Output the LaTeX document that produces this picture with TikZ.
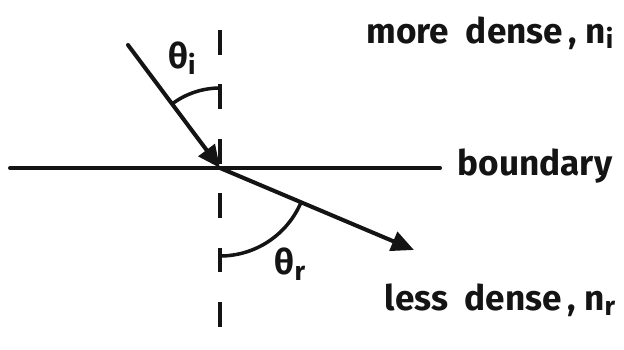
\documentclass[tikz,border=0pt]{standalone}
\usepackage{fontspec}
\setmainfont{Fira Sans}
\usepackage{xcolor}
\definecolor{inkblack}{RGB}{20,20,20}
\usetikzlibrary{arrows.meta, positioning}

\newcommand{\lowsub}[1]{\raisebox{-0.3ex}{\fontsize{15}{15}\selectfont #1}}

\begin{document}
\begin{tikzpicture}[x=0.02cm, y=0.02cm,
    ink/.style={inkblack, line width=2.3pt, line cap=round},
    ray/.style={ink, -{Triangle[length=4.5mm, width=4mm]}},
    normalline/.style={inkblack, line width=2pt, dash pattern=on 14pt off 17pt},
    lbl/.style={inkblack, font=\fontsize{20}{24}\selectfont\bfseries, inner sep=0pt}]

\useasboundingbox (0,0) rectangle (624,349);

% === Points ===
\coordinate (hit) at (220,181);
\coordinate (src) at (128,304);
\coordinate (dst) at (414,99);
\coordinate (ntop) at (220,319);
\coordinate (nbot) at (220,0);
\coordinate (bleft) at (10,181);
\coordinate (bright) at (440,181);

% === Boundary and normal ===
\draw[ink] (bleft) -- (bright);
\draw[normalline] (ntop) -- (nbot);

% === Rays ===
\draw[ray] (src) -- (hit);
\draw[ray] (hit) -- (dst);

% Angle arcs
\draw[ink, line width=2pt] (hit) ++(126.8:80) arc[start angle=126.8, end angle=90, radius=80];
\draw[ink, line width=2pt] (hit) ++(-22.9:88) arc[start angle=-22.9, end angle=-90, radius=88];

% === Labels ===
\node[lbl] (thetai) at (182,291) {θ\lowsub{i}};
\node[lbl] (thetar) at (290,85) {θ\lowsub{r}};
\node[lbl] (upper) at (490,316) {more\ \ dense\,, n\lowsub{i}};
\node[lbl] (bound) at (535,183) {boundary};
\node[lbl] (lower) at (500,49) {less\ \ dense\,, n\lowsub{r}};

\end{tikzpicture}
\end{document}
